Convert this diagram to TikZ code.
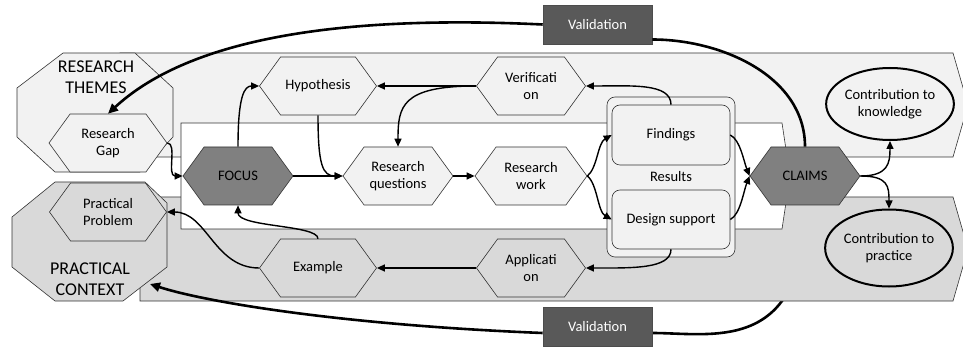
\documentclass[tikz,border=0pt]{standalone}
\usepackage{fontspec}
\setmainfont{Carlito}
\usetikzlibrary{shapes.symbols,shapes.geometric,arrows.meta}
\pgfdeclarelayer{lines}
\pgfdeclarelayer{bands}
\pgfsetlayers{lines,bands,main}
\definecolor{lightg}{HTML}{F2F2F2}
\definecolor{midg}{HTML}{D9D9D9}
\definecolor{darkg}{HTML}{808080}
\definecolor{valg}{HTML}{595959}
\tikzset{
  hex/.style={shape=signal, signal to=west and east, signal pointer angle=108,
    draw=black!80, line width=0.6pt, align=center, inner sep=1pt,
    font=\fontsize{14.5}{17}\selectfont, minimum height=58},
  bandline/.style={draw=black!80, line width=0.6pt},
  resbox/.style={rectangle, rounded corners=8pt, draw=black!80, line width=0.6pt,
    fill=lightg, align=center, font=\fontsize{14.5}{17}\selectfont},
  contrib/.style={ellipse, draw=black, line width=2pt, align=center,
    font=\fontsize{14.5}{17}\selectfont, inner sep=0pt},
  valbox/.style={rectangle, draw=black!70, line width=0.6pt, fill=valg, text=white,
    font=\fontsize{14.5}{17}\selectfont, minimum width=109, minimum height=39},
  biglabel/.style={align=center, font=\fontsize{18}{21}\selectfont, inner sep=0pt},
  arr/.style={draw=black, line width=1.4pt, -{Triangle[length=8pt,width=7pt]}},
  varr/.style={draw=black, line width=2.6pt, -{Triangle[length=10pt,width=9pt]}},
  vline/.style={draw=black, line width=2.6pt}
}
\begin{document}
\begin{tikzpicture}[x=1pt,y=-1pt]
\useasboundingbox (0,0) rectangle (963,347);

\begin{pgfonlayer}{bands}
  \draw[bandline, fill=lightg] (120,53) -- (953,53) -- (968,105) -- (953,157) -- (120,157) -- cycle;
  \draw[bandline, fill=midg] (140,197) -- (953,197) -- (968,249) -- (953,301) -- (140,301) -- cycle;
  \draw[bandline, fill=white] (181,123) -- (782,123) -- (790,176) -- (782,229) -- (181,229) -- cycle;
  \draw[bandline, fill=lightg] (63,53) -- (135,53) -- (173,88) -- (173,137) -- (140,172)
     -- (55,172) -- (17,137) -- (17,88) -- cycle;
  \draw[bandline, fill=midg] (55,182) -- (145,182) -- (167,203) -- (167,267) -- (123,301)
     -- (55,301) -- (12,267) -- (12,217) -- cycle;
\end{pgfonlayer}

\node[biglabel] (rt) at (96,77) {RESEARCH\\THEMES};
\node[biglabel] (pc) at (90,279) {PRACTICAL\\CONTEXT};
\coordinate (pcx) at (150,284);

\node[hex, fill=lightg, minimum width=118] (gap) at (108,143) {Research\\Gap};
\node[hex, fill=midg, minimum width=117] (pprob) at (108,212) {Practical\\Problem};
\node[hex, fill=darkg, minimum width=110] (focus) at (238,176) {FOCUS};
\node[hex, fill=lightg, minimum width=117] (hyp) at (318,86) {Hypothesis};
\node[hex, fill=lightg, minimum width=109] (ver) at (531,86) {Verificati\\on};
\node[hex, fill=lightg, minimum width=110] (rq) at (398,176) {Research\\questions};
\node[hex, fill=lightg, minimum width=112] (rw) at (531,176) {Research\\work};
\node[hex, fill=darkg, minimum width=110] (claims) at (805,176) {CLAIMS};
\node[hex, fill=midg, minimum width=117] (ex) at (318,268) {Example};
\node[hex, fill=midg, minimum width=109] (app) at (531,268) {Applicati\\on};

\node[resbox, minimum width=128, minimum height=160] (res) at (671,177) {};
\node[resbox, minimum width=118, minimum height=60] (find) at (671,135) {Findings};
\node[resbox, minimum width=118, minimum height=59] (des) at (671,219.5) {Design support};
\node[font=\fontsize{14.5}{17}\selectfont] (reslab) at (671,177) {Results};

\node[contrib, fill=lightg, minimum width=126, minimum height=72] (ck) at (890,104) {Contribution to\\knowledge};
\node[contrib, fill=midg, minimum width=120, minimum height=77] (cp) at (889,248) {Contribution to\\practice};

\node[valbox] (val1) at (597.5,24.5) {Validation};
\node[valbox] (val2) at (597.5,327) {Validation};

% connectors
\draw[arr] (gap.east) .. controls +(10,0) and +(-16,0) .. (focus.west);
\draw[arr] (focus.north) .. controls +(0,-50) and +(-15,0) .. (hyp.west);
\draw[arr] (hyp.south) .. controls +(0,50) and +(-20,0) .. (rq.west);
\draw[arr] (focus.east) -- (rq.west);
\draw[arr] (rq.east) -- (rw.west);
\draw[arr] (rw.east) .. controls +(10,-8) and +(-14,8) .. (find.west);
\draw[arr] (rw.east) .. controls +(10,8) and +(-14,-8) .. (des.west);
\draw[arr] (ver.west) -- (hyp.east);
\draw[arr] (ver.west) .. controls +(-75,0) and +(0,-40) .. (rq.north);
\draw[arr] (find.north) .. controls +(0,-22) and +(45,0) .. (ver.east);
\draw[arr] (find.east) .. controls +(10,5) and +(-6,-15) .. (claims.west);
\draw[arr] (des.east) .. controls +(10,-5) and +(-6,15) .. (claims.west);
\draw[arr] (claims.east) .. controls +(28,0) and +(0,22) .. (ck.south);
\draw[arr] (claims.east) .. controls +(28,0) and +(0,-22) .. (cp.north);
\draw[arr] (des.south) .. controls +(0,20) and +(45,0) .. (app.east);
\draw[arr] (app.west) -- (ex.east);
\draw[arr] (ex.north) .. controls +(0,-14) and +(0,22) .. (focus.south);
\draw[arr] (ex.west) .. controls +(-45,0) and +(40,0) .. (pprob.east);

\draw[vline] (claims.north) .. controls +(0,-70) and +(70,0) .. ([yshift=-15pt]val1.east);
\draw[varr] (val1.west) .. controls +(-250,-12) and +(65,-60) .. (gap.north);
\begin{pgfonlayer}{lines}
  \draw[vline] (claims.south) .. controls +(0,150) and +(60,0) .. ([yshift=-6pt]val2.east);
\end{pgfonlayer}
\draw[varr] ([yshift=-6pt]val2.west) .. controls +(-200,-8) and +(55,18) .. (pcx);
\end{tikzpicture}
\end{document}
